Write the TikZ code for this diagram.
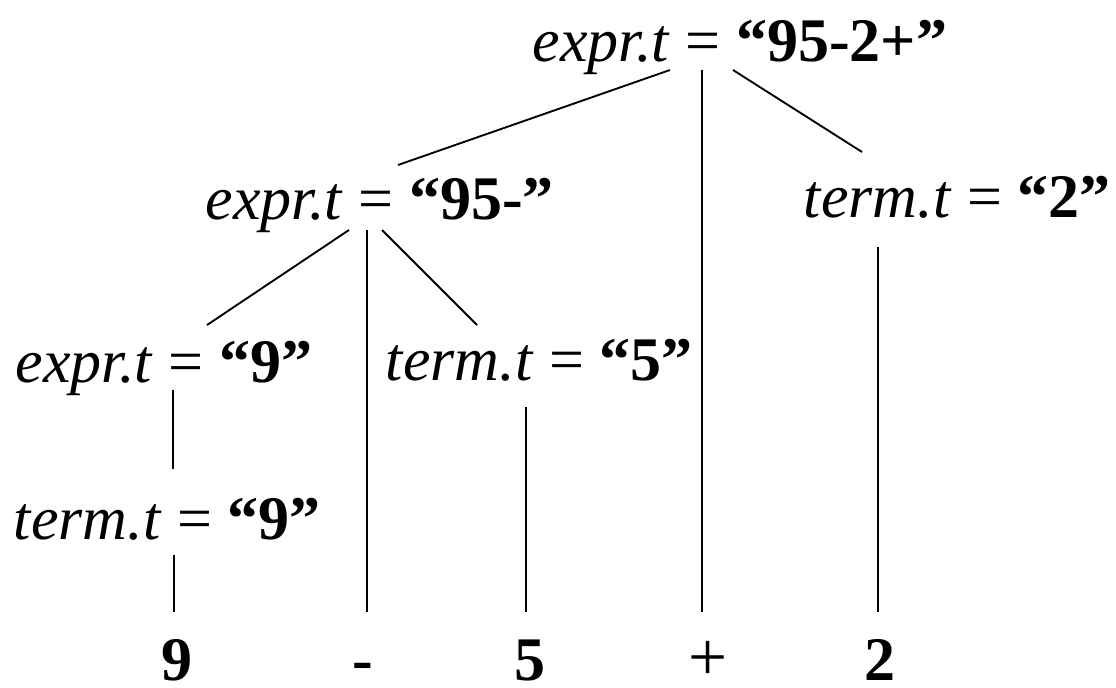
\documentclass[tikz,border=0pt]{standalone}
\usepackage{fontspec}
\setmainfont{Liberation Serif}

\begin{document}
\begin{tikzpicture}[x=0.75pt, y=-0.75pt, line width=1.4pt,
    attr/.style = {anchor=base west, inner sep=0pt, font=\fontsize{46.5}{56}\selectfont},
    leaf/.style = {anchor=base, inner sep=0pt, text height=50.25pt, text depth=0pt,
                   font=\fontsize{46.5}{56}\selectfont}]
        \useasboundingbox (0,0) rectangle (1116,688);
        % annotated nodes
        \node[attr] (root) at (532,62) {\textit{expr.t} = \textbf{“95-2+”}};
        \node[attr] (e2) at (205,219) {\textit{expr.t} = \textbf{“95-”}};
        \node[attr] (t2) at (803,217) {\textit{term.t} = \textbf{“2”}};
        \node[attr] (e3) at (15,382) {\textit{expr.t} = \textbf{“9”}};
        \node[attr] (t5) at (385,380) {\textit{term.t} = \textbf{“5”}};
        \node[attr] (t9) at (13,539) {\textit{term.t} = \textbf{“9”}};
        % leaves
        \node[leaf] (nine) at (177,680) {\bfseries 9};
        \node[leaf] (minus) at (363,680) {\bfseries -};
        \node[leaf] (five) at (530,680) {\bfseries 5};
        \node[leaf] (plus) at (708,680) {\fontsize{52}{56}\selectfont +};
        \node[leaf] (two) at (880,680) {\bfseries 2};
        % line ends
        \coordinate (r-l) at (670,70);
        \coordinate (r-m) at (702,70);
        \coordinate (r-r) at (733,70);
        \coordinate (e2-in) at (398,165);
        \coordinate (t2-in) at (862,152);
        \coordinate (e2-l) at (349,230);
        \coordinate (e2-m) at (367,230);
        \coordinate (e2-r) at (382,230);
        \coordinate (e3-in) at (207,325);
        \coordinate (t5-in) at (477,325);
        \coordinate (t2-m) at (878,247);
        \coordinate (e3-m) at (173,390);
        \coordinate (t9-in) at (173,469);
        \coordinate (t5-m) at (526,407);
        \coordinate (t9-m) at (174,555);
        \draw (r-l) -- (e2-in);
        \draw (r-r) -- (t2-in);
        \draw (r-m) -- (r-m |- plus.north);
        \draw (e2-l) -- (e3-in);
        \draw (e2-r) -- (t5-in);
        \draw (e2-m) -- (e2-m |- minus.north);
        \draw (t2-m) -- (t2-m |- two.north);
        \draw (e3-m) -- (t9-in);
        \draw (t5-m) -- (t5-m |- five.north);
        \draw (t9-m) -- (t9-m |- nine.north);
\end{tikzpicture}
\end{document}
